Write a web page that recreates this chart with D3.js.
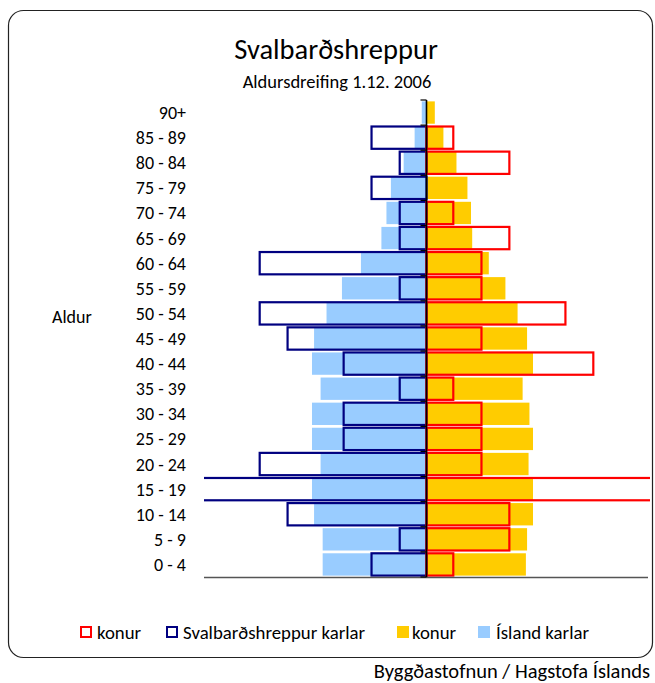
<!DOCTYPE html>
<html>
<head>
<meta charset="utf-8">
<script src="https://cdn.jsdelivr.net/npm/d3@7"></script>
<style>
  html, body { margin: 0; padding: 0; background: #fff; }
  svg { display: block; font-family: Calibri, Carlito, Lato, sans-serif; }
</style>
</head>
<body>
<svg id="chart" width="655" height="683"></svg>
<script>
// Age groups, bottom to top
const ageGroups = ["0 - 4","5 - 9","10 - 14","15 - 19","20 - 24","25 - 29","30 - 34","35 - 39","40 - 44","45 - 49","50 - 54","55 - 59","60 - 64","65 - 69","70 - 74","75 - 79","80 - 84","85 - 89","90+"];

// Percent of population, Ísland (filled bars)
const islandKarlar = [3.50,3.50,3.79,3.86,3.57,3.86,3.86,3.57,3.86,3.79,3.37,2.85,2.21,1.52,1.35,1.20,0.77,0.40,0.16];
const islandKonur  = [3.35,3.39,3.59,3.59,3.44,3.59,3.47,3.24,3.59,3.39,3.07,2.66,2.10,1.54,1.50,1.38,1.01,0.57,0.28];

// Percent of population, Svalbarðshreppur (outlined bars)
const svalKarlar = [1.89,0.94,4.72,8.49,5.66,2.83,2.83,0.94,2.83,4.72,5.66,0.94,5.66,0.94,0.94,1.89,0.94,1.89,0];
const svalKonur  = [0.94,2.83,2.83,8.49,1.89,1.89,1.89,0.94,5.66,1.89,4.72,1.89,1.89,2.83,0.94,0,2.83,0.94,0];

const xDomain = [-7.5, 7.5];

const titleText = "Svalbarðshreppur";
const subtitleText = "Aldursdreifing 1.12. 2006";
const yAxisTitle = "Aldur";
const sourceText = "Byggðastofnun / Hagstofa Íslands";
const legendItems = [
  {label: "konur", type: "outline", color: "#FF0000"},
  {label: "Svalbarðshreppur karlar", type: "outline", color: "#000080"},
  {label: "konur", type: "fill", color: "#FFCC00"},
  {label: "Ísland karlar", type: "fill", color: "#99CCFF"}
];

const svg = d3.select("#chart");

// Outer rounded frame
svg.append("rect")
  .attr("x", 8.5).attr("y", 10.5)
  .attr("width", 644).attr("height", 647)
  .attr("rx", 15).attr("ry", 15)
  .attr("fill", "#fff").attr("stroke", "#222").attr("stroke-width", 1.2);

const plot = {left: 204, right: 649, top: 100, bottom: 577};

const x = d3.scaleLinear().domain(xDomain).range([plot.left, plot.right]);
const y = d3.scaleBand().domain(ageGroups.slice().reverse()).range([plot.top, plot.bottom]).paddingInner(0).paddingOuter(0);
const bw = y.bandwidth();
const fillPad = bw * 0.055;

// clip
svg.append("defs").append("clipPath").attr("id", "plotclip")
  .append("rect").attr("x", plot.left).attr("y", plot.top - 2)
  .attr("width", plot.right - plot.left + 1).attr("height", plot.bottom - plot.top + 4);

const g = svg.append("g").attr("clip-path", "url(#plotclip)");

// Iceland filled bars
g.selectAll(".ik").data(ageGroups).join("rect")
  .attr("x", (d,i) => x(-islandKarlar[i]))
  .attr("width", (d,i) => x(0) - x(-islandKarlar[i]))
  .attr("y", d => y(d) + fillPad)
  .attr("height", bw - 2*fillPad)
  .attr("fill", "#99CCFF");

g.selectAll(".ikv").data(ageGroups).join("rect")
  .attr("x", x(0))
  .attr("width", (d,i) => x(islandKonur[i]) - x(0))
  .attr("y", d => y(d) + fillPad)
  .attr("height", bw - 2*fillPad)
  .attr("fill", "#FFCC00");

// Svalbarðshreppur outlined bars
const sw = 2.2;
g.selectAll(".sk").data(ageGroups.filter((d,i) => svalKarlar[i] > 0)).join("rect")
  .attr("x", d => x(-svalKarlar[ageGroups.indexOf(d)]) + sw/2)
  .attr("width", d => x(0) - x(-svalKarlar[ageGroups.indexOf(d)]) - sw/2)
  .attr("y", d => y(d) + sw/2 + 0.3)
  .attr("height", bw - sw - 0.6)
  .attr("fill", "none").attr("stroke", "#000080").attr("stroke-width", sw);

g.selectAll(".skv").data(ageGroups.filter((d,i) => svalKonur[i] > 0)).join("rect")
  .attr("x", x(0))
  .attr("width", d => x(svalKonur[ageGroups.indexOf(d)]) - x(0) - sw/2)
  .attr("y", d => y(d) + sw/2 + 0.3)
  .attr("height", bw - sw - 0.6)
  .attr("fill", "none").attr("stroke", "#FF0000").attr("stroke-width", sw);

// Bottom axis line
svg.append("line")
  .attr("x1", plot.left).attr("x2", plot.right - 1)
  .attr("y1", plot.bottom + 0.5).attr("y2", plot.bottom + 0.5)
  .attr("stroke", "#555").attr("stroke-width", 1.5);

// Vertical category axis at zero
const ax = svg.append("g").attr("transform", `translate(${x(0)},0)`);
ax.append("line").attr("x1", 0).attr("x2", 0)
  .attr("y1", plot.top).attr("y2", plot.bottom)
  .attr("stroke", "#000").attr("stroke-width", 1.6);
ax.selectAll(".tk").data(d3.range(ageGroups.length + 1)).join("line")
  .attr("x1", -6).attr("x2", 0)
  .attr("y1", i => plot.top + i * bw).attr("y2", i => plot.top + i * bw)
  .attr("stroke", "#000").attr("stroke-width", 1.2);

// Category labels (right-aligned left of plot)
svg.append("g").selectAll("text").data(ageGroups).join("text")
  .attr("x", 186)
  .attr("y", d => y(d) + bw/2)
  .attr("dy", "0.36em")
  .attr("text-anchor", "end")
  .attr("font-size", 18)
  .attr("fill", "#000")
  .text(d => d);

// Axis title
svg.append("text").attr("x", 52).attr("y", 323)
  .attr("font-size", 18).attr("fill", "#000").text(yAxisTitle);

// Titles
svg.append("text").attr("x", 336).attr("y", 59)
  .attr("text-anchor", "middle").attr("font-size", 28.5).attr("fill", "#000").text(titleText);
svg.append("text").attr("x", 337).attr("y", 88)
  .attr("text-anchor", "middle").attr("font-size", 18.5).attr("fill", "#000").text(subtitleText);

// Legend
const legendBoxX = [81, 167, 398, 479];
const legendTextX = [97, 183, 412, 496];
const lg = svg.append("g");
legendItems.forEach((it, i) => {
  const gx = legendBoxX[i];
  if (it.type === "outline") {
    lg.append("rect").attr("x", gx).attr("y", 627).attr("width", 10).attr("height", 10)
      .attr("fill", "#fff").attr("stroke", it.color).attr("stroke-width", 2);
  } else {
    lg.append("rect").attr("x", gx - 1).attr("y", 626).attr("width", 12).attr("height", 12)
      .attr("fill", it.color);
  }
  lg.append("text").attr("x", legendTextX[i]).attr("y", 638.5)
    .attr("font-size", 18.8).attr("fill", "#000").text(it.label);
});

// Source
svg.append("text").attr("x", 650).attr("y", 678)
  .attr("text-anchor", "end").attr("font-size", 20.5).attr("fill", "#000").text(sourceText);
</script>
</body>
</html>
